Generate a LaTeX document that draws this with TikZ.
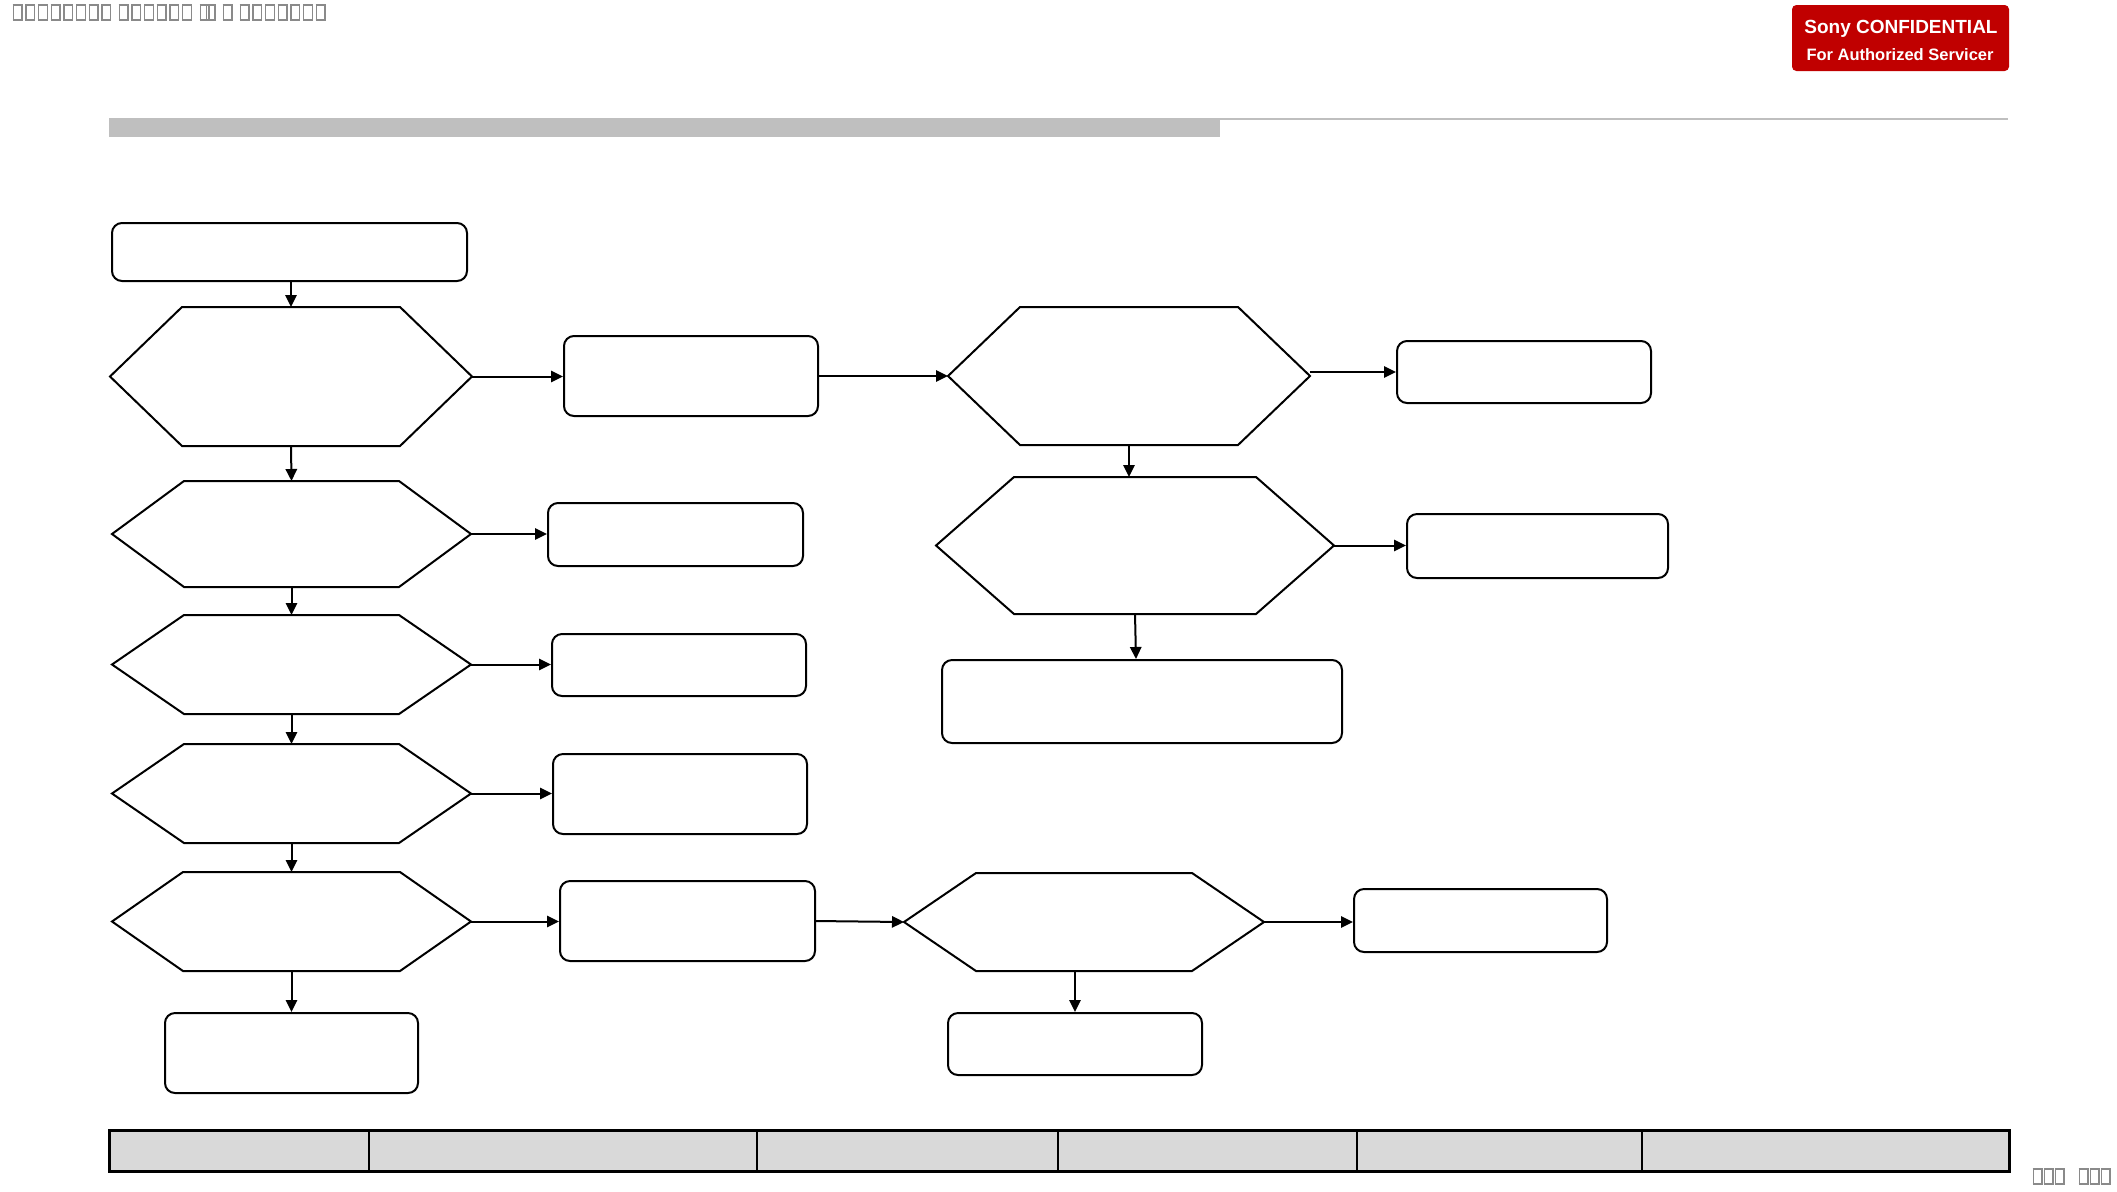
\documentclass[tikz,border=0pt]{standalone}
\usepackage{fontspec}
\setmainfont{Liberation Sans}
\usetikzlibrary{calc,arrows.meta}
\newlength{\pxu}\setlength{\pxu}{0.3pt}
\definecolor{sonyred}{HTML}{C00000}
\definecolor{bargray}{HTML}{BFBFBF}
\definecolor{cellgray}{HTML}{D9D9D9}
\definecolor{tofugray}{HTML}{8A8A8A}
\newcommand{\tofu}{{\setlength{\fboxsep}{0pt}\setlength{\fboxrule}{0.4pt}\fbox{\rule{0pt}{4.1pt}\hspace{2.2pt}}}\hspace{0.8pt}}
\newcommand{\tofuB}{{\setlength{\fboxsep}{0pt}\setlength{\fboxrule}{0.4pt}\fbox{\rule{0pt}{4.1pt}\hspace{2.2pt}}}\hspace{0.3pt}}
\newcommand{\hexdraw}[2]{\draw[hexline] (#1.west) -- ($(#1.north west)+(#2,0)$) -- ($(#1.north east)-(#2,0)$) -- (#1.east) -- ($(#1.south east)-(#2,0)$) -- ($(#1.south west)+(#2,0)$) -- cycle;}
\tikzset{
  hexline/.style={draw=black, line width=0.6pt},
  hexn/.style={inner sep=0pt, outer sep=0pt},
  rbox/.style={draw=black, line width=0.6pt, rounded corners=3pt, inner sep=0pt, fill=white},
  arr/.style={draw=black, line width=0.6pt, -{Triangle[length=3.6pt,width=3.4pt]}},
  cell/.style={draw=black, line width=0.45pt, fill=cellgray, inner sep=0pt, minimum height=40\pxu},
  badge/.style={fill=sonyred, rounded corners=1.3pt, inner sep=0pt, minimum width=217\pxu, minimum height=66\pxu},
  badgeA/.style={text=white, font=\fontsize{5.7pt}{6.5pt}\selectfont\bfseries, inner sep=0pt, anchor=base},
  badgeB/.style={text=white, font=\fontsize{4.95pt}{6pt}\selectfont\bfseries, inner sep=0pt, anchor=base},
  tofutext/.style={text=tofugray, inner sep=0pt, anchor=west, font=\fontsize{5pt}{6pt}\selectfont}
}
\begin{document}
\begin{tikzpicture}[x=0.3pt,y=-0.3pt]
\useasboundingbox (0,0) rectangle (2117,1191);

% header placeholder glyphs
\node[tofutext] (t1) at (12,12.5) {\tofu\tofu\tofu\tofu\tofu\tofu\tofu\tofu};
\node[tofutext] (t2) at (118,12.5) {\tofu\tofu\tofu\tofu\tofu\tofu};
\node[tofutext] (t3) at (199,12.5) {\tofu};
\node[tofutext] (t3b) at (205,12.5) {\tofu};
\node[tofutext] (t4) at (222,12.5) {\tofu};
\node[tofutext] (t5) at (239,12.5) {\tofu\tofu\tofu\tofu\tofu\tofu\tofu};

% Sony badge
\node[badge] (sony) at (1900.5,38) {};
\node[badgeA] (sonyA) at (1901,33) {Sony CONFIDENTIAL};
\node[badgeB] (sonyB) at (1900,60) {For Authorized Servicer};

% title bar
\fill[bargray] (109,118) rectangle (1220,137);
\draw[bargray, line width=0.6pt] (1220,119) -- (2008,119);

% left column
\node[rbox, minimum width=355\pxu, minimum height=58\pxu] (S) at (289.5,252) {};
\node[hexn, minimum width=362\pxu, minimum height=139\pxu] (h1) at (291,376.5) {};
\node[hexn, minimum width=359\pxu, minimum height=106\pxu] (h2) at (291.5,534) {};
\node[hexn, minimum width=359\pxu, minimum height=99\pxu] (h3) at (291.5,664.5) {};
\node[hexn, minimum width=359\pxu, minimum height=99\pxu] (h4) at (291.5,793.5) {};
\node[hexn, minimum width=359\pxu, minimum height=99\pxu] (h5) at (291.5,921.5) {};
\hexdraw{h1}{72}
\hexdraw{h2}{72}
\hexdraw{h3}{72}
\hexdraw{h4}{72}
\hexdraw{h5}{71}
\node[rbox, minimum width=253\pxu, minimum height=80\pxu] (C5) at (291.5,1053) {};

% second column boxes
\node[rbox, minimum width=254\pxu, minimum height=80\pxu] (B1) at (691,376) {};
\node[rbox, minimum width=255\pxu, minimum height=63\pxu] (B2) at (675.5,534.5) {};
\node[rbox, minimum width=254\pxu, minimum height=62\pxu] (B3) at (679,665) {};
\node[rbox, minimum width=254\pxu, minimum height=80\pxu] (B4) at (680,794) {};
\node[rbox, minimum width=255\pxu, minimum height=80\pxu] (B5) at (687.5,921) {};

% right part
\node[hexn, minimum width=362\pxu, minimum height=138\pxu] (R1) at (1129,376) {};
\node[hexn, minimum width=398\pxu, minimum height=137\pxu] (R2) at (1135,545.5) {};
\node[hexn, minimum width=360\pxu, minimum height=98\pxu] (R5) at (1084,922) {};
\hexdraw{R1}{72}
\hexdraw{R2}{78}
\hexdraw{R5}{72}
\node[rbox, minimum width=254\pxu, minimum height=62\pxu] (R1B) at (1524,372) {};
\node[rbox, minimum width=261\pxu, minimum height=64\pxu] (R2B) at (1537.5,546) {};
\node[rbox, minimum width=400\pxu, minimum height=83\pxu] (R2C) at (1142,701.5) {};
\node[rbox, minimum width=253\pxu, minimum height=63\pxu] (R5B) at (1480.5,920.5) {};
\node[rbox, minimum width=254\pxu, minimum height=62\pxu] (R5C) at (1075,1044) {};

% connectors
\draw[arr] (S.south -| h1.north) -- (h1.north);
\draw[arr] (h1.south) -- (h2.north);
\draw[arr] (h2.south) -- (h3.north);
\draw[arr] (h3.south) -- (h4.north);
\draw[arr] (h4.south) -- (h5.north);
\draw[arr] (h5.south) -- (h5.south |- C5.north);
\draw[arr] (h1.east) -- (h1.east -| B1.west);
\draw[arr] (h2.east) -- (h2.east -| B2.west);
\draw[arr] (h3.east) -- (h3.east -| B3.west);
\draw[arr] (h4.east) -- (h4.east -| B4.west);
\draw[arr] (h5.east) -- (h5.east -| B5.west);
\draw[arr] (B1.east) -- (R1.west);
\draw[arr] (R1.east |- R1B.west) -- (R1B.west);
\draw[arr] (R1.south) -- (R1.south |- R2.north);
\draw[arr] (R2.east) -- (R2.east -| R2B.west);
\draw[arr] (R2.south) -- ([xshift=0.3pt]R2.south |- R2C.north);
\draw[arr] (B5.east) -- (R5.west);
\draw[arr] (R5.east) -- (R5.east -| R5B.west);
\draw[arr] (R5C.north |- R5.south) -- (R5C.north);

% bottom table
\node[cell, minimum width=259\pxu] (c1) at (239.5,1151) {};
\node[cell, minimum width=388\pxu] (c2) at (563,1151) {};
\node[cell, minimum width=301\pxu] (c3) at (907.5,1151) {};
\node[cell, minimum width=299\pxu] (c4) at (1207.5,1151) {};
\node[cell, minimum width=285\pxu] (c5) at (1499.5,1151) {};
\node[cell, minimum width=367\pxu] (c6) at (1825.5,1151) {};
\draw[line width=0.6pt] (c1.north west) rectangle (c6.south east);

% footer placeholder glyphs
\node[tofutext] (f1) at (2032,1176.5) {\tofuB\tofuB\tofuB};
\node[tofutext] (f2) at (2078,1176.5) {\tofuB\tofuB\tofuB};
\end{tikzpicture}
\end{document}
